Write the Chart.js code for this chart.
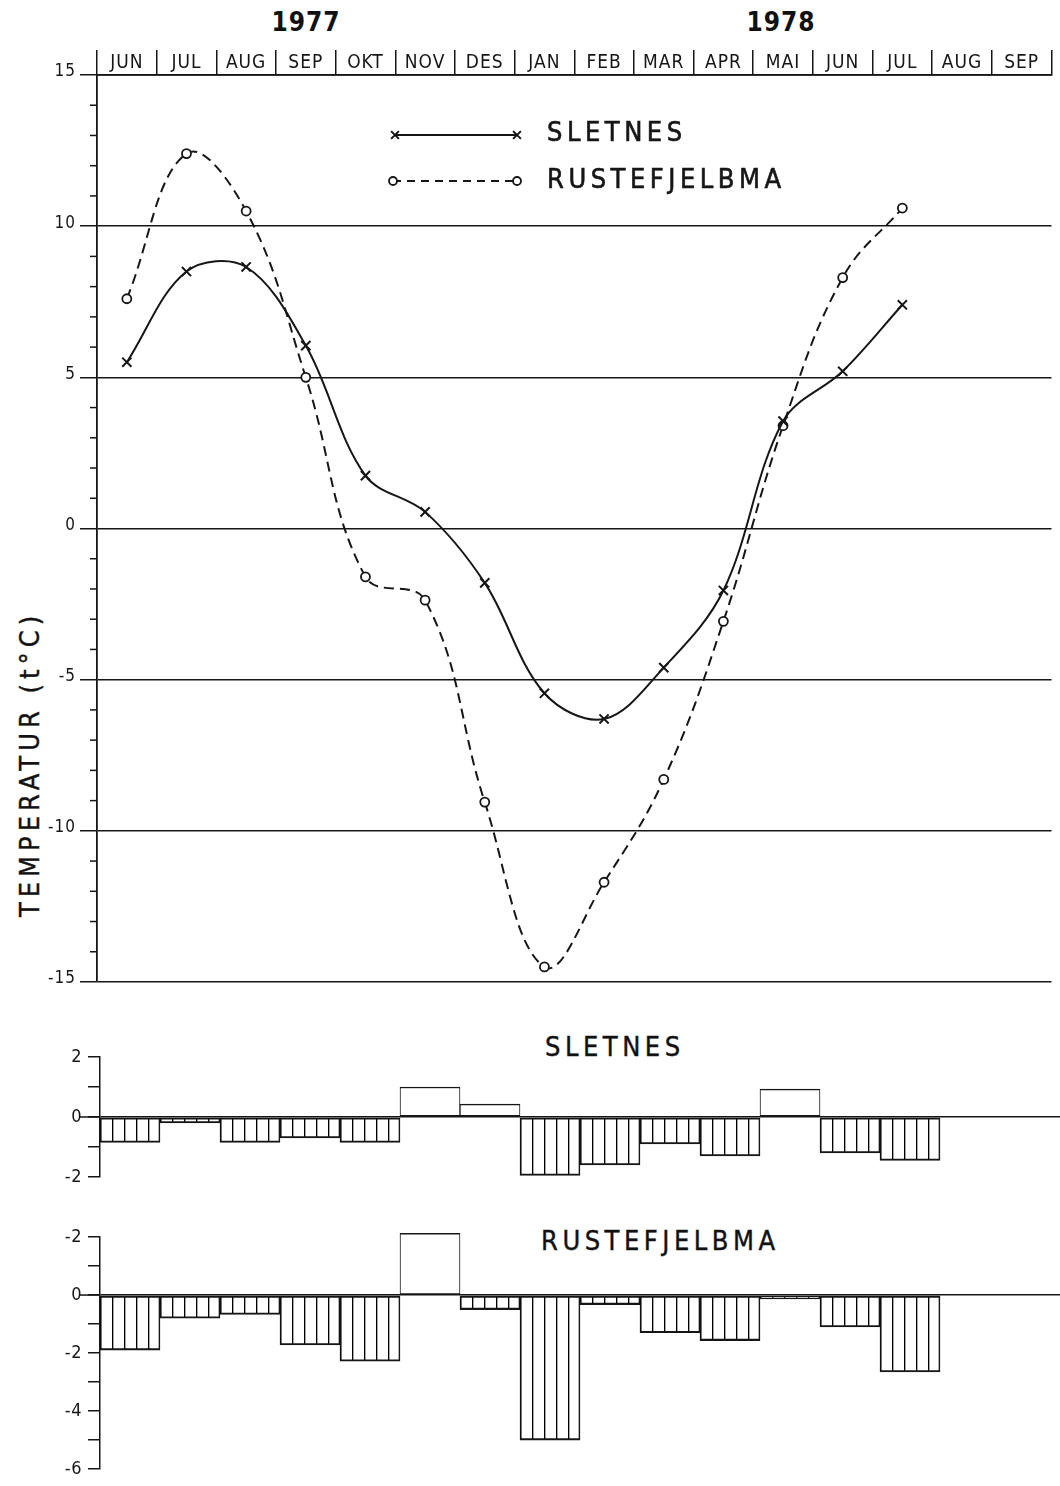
<!DOCTYPE html>
<html><head><meta charset="utf-8">
<script src="https://cdn.jsdelivr.net/npm/chart.js@4.4.1/dist/chart.umd.min.js"></script>
<style>
html,body{margin:0;padding:0;background:#fff;}
body{width:1060px;height:1486px;position:relative;overflow:hidden;font-family:'DejaVu Sans Condensed','DejaVu Sans',sans-serif;color:#111;}
canvas{position:absolute;left:0;}
.t{position:absolute;white-space:nowrap;line-height:1;transform:translate(-50%,-50%);-webkit-text-stroke:0.4px #161616;}
.yr{font-size:26px;font-weight:bold;letter-spacing:1px;-webkit-text-stroke:0;}
.sub{font-size:27px;letter-spacing:4.5px;transform:translate(0,-50%);}
.ytitle{font-size:27px;letter-spacing:5px;transform:translate(-50%,-50%) rotate(-90deg);}
</style></head><body>
<div class="t yr" id="yr0" style="left:306px;top:22px;"></div>
<div class="t yr" id="yr1" style="left:781px;top:22px;"></div>
<div class="t ytitle" id="ytitle" style="left:29px;top:764px;"></div>
<div class="t sub" id="sub0" style="left:545px;top:1046px;"></div>
<div class="t sub" id="sub1" style="left:541px;top:1240px;"></div>
<canvas id="cTop" width="1060" height="1000" style="top:0;"></canvas>
<canvas id="cSlet" width="1060" height="170" style="top:1027px;"></canvas>
<canvas id="cRust" width="1060" height="279" style="top:1207px;"></canvas>
<script>
// ---------- DATA ----------
const years = ['1977', '1978'];
const months = ['JUN','JUL','AUG','SEP','OKT','NOV','DES','JAN','FEB','MAR','APR','MAI','JUN','JUL','AUG','SEP'];
const seriesNames = ['SLETNES', 'RUSTEFJELBMA'];
const sletnesTemp = [5.5, 8.5, 8.65, 6.05, 1.75, 0.55, -1.8, -5.45, -6.3, -4.6, -2.05, 3.55, 5.2, 7.4, null, null];
const rusteTemp   = [7.6, 12.4, 10.5, 5.0, -1.6, -2.37, -9.05, -14.5, -11.7, -8.3, -3.07, 3.4, 8.3, 10.6, null, null];
const sletnesDev  = [-0.85, -0.2, -0.85, -0.7, -0.85, 1.0, 0.43, -1.95, -1.6, -0.9, -1.3, 0.93, -1.2, -1.45, null, null];
const rusteDev    = [-1.9, -0.8, -0.67, -1.72, -2.28, 2.13, -0.5, -5.0, -0.33, -1.3, -1.57, -0.13, -1.1, -2.65, null, null];
const tempTickValues = [15, 10, 5, 0, -5, -10, -15];
const sletDevTickValues = [2, 0, -2];
const sletDevTickLabels = ['2', '0', '-2'];
const rustDevTickValues = [2, 0, -2, -4, -6];
const rustDevTickLabels = ['-2', '0', '-2', '-4', '-6'];
const yTitle = 'TEMPERATUR (t°C)';

// ---------- TEXT ----------
document.getElementById('yr0').textContent = years[0];
document.getElementById('yr1').textContent = years[1];
document.getElementById('ytitle').textContent = yTitle;
document.getElementById('sub0').textContent = seriesNames[0];
document.getElementById('sub1').textContent = seriesNames[1];

const INK = '#161616';
const FONT = "'DejaVu Sans Condensed','DejaVu Sans',sans-serif";
Chart.defaults.font.family = FONT;
Chart.defaults.color = INK;

const spacingPlugin = {
  id: 'spacing',
  beforeDraw(chart, args, opts) { chart.ctx.letterSpacing = (opts.px || 0) + 'px'; }
};

const minorTicksPlugin = {
  id: 'minorTicks',
  afterDraw(chart, args, opts) {
    const s = chart.scales.y, ctx = chart.ctx;
    ctx.save();
    ctx.strokeStyle = INK; ctx.lineWidth = 1.5;
    if (opts.step) {
      for (let v = s.min; v <= s.max + 1e-9; v += opts.step) {
        if (Math.abs(v % opts.major) < 1e-9) continue;
        const y = s.getPixelForValue(v);
        ctx.beginPath(); ctx.moveTo(s.right - opts.len, y); ctx.lineTo(s.right, y); ctx.stroke();
      }
    }
    (opts.ext || []).forEach(e => {
      const y = s.getPixelForValue(e.value);
      ctx.beginPath(); ctx.moveTo(s.right - e.len, y); ctx.lineTo(s.right, y); ctx.stroke();
    });
    ctx.restore();
  }
};

const legendPlugin = {
  id: 'inLegend',
  afterDatasetsDraw(chart, args, opts) {
    if (!opts.items) return;
    const ctx = chart.ctx;
    opts.items.forEach((it, i) => {
      const ds = chart.data.datasets[i];
      ctx.save();
      ctx.strokeStyle = ds.borderColor; ctx.lineWidth = ds.borderWidth;
      ctx.setLineDash(it.dash || []);
      ctx.beginPath(); ctx.moveTo(it.x0, it.y); ctx.lineTo(it.x1, it.y); ctx.stroke();
      ctx.setLineDash([]);
      ctx.fillStyle = ds.pointBackgroundColor; ctx.strokeStyle = ds.pointBorderColor;
      ctx.lineWidth = ds.pointBorderWidth;
      [it.x0, it.x1].forEach(x => Chart.helpers.drawPoint(ctx,
        {pointStyle: ds.pointStyle, radius: it.r, borderWidth: ds.pointBorderWidth, rotation: 0}, x, it.y));
      ctx.fillStyle = INK;
      ctx.strokeStyle = INK; ctx.lineWidth = 0.6;
      ctx.font = "27px " + FONT;
      ctx.letterSpacing = '4.5px';
      ctx.textBaseline = 'middle'; ctx.textAlign = 'left';
      ctx.fillText(ds.label, it.tx, it.ty);
      ctx.strokeText(ds.label, it.tx, it.ty);
      ctx.restore();
    });
  }
};

// ---------- TOP CHART ----------
new Chart(document.getElementById('cTop'), {
  type: 'line',
  data: {
    labels: months,
    datasets: [
      { label: seriesNames[0], data: sletnesTemp, borderColor: INK, borderWidth: 2, tension: 0.35,
        pointStyle: 'crossRot', pointRadius: 6.5, pointBorderWidth: 2, pointBorderColor: INK,
        pointBackgroundColor: INK, fill: false },
      { label: seriesNames[1], data: rusteTemp, borderColor: INK, borderWidth: 2, tension: 0.4,
        borderDash: [10, 6], pointStyle: 'circle', pointRadius: 4.5, pointBorderWidth: 1.8,
        pointBorderColor: INK, pointBackgroundColor: '#fff', fill: false }
    ]
  },
  options: {
    responsive: false, animation: false,
    layout: { padding: { left: 0, right: 3, top: 0, bottom: 18 } },
    plugins: {
      legend: { display: false }, tooltip: { enabled: false },
      spacing: { px: 1 },
      minorTicks: { step: 1, major: 5, len: 7 },
      inLegend: { items: [
        { x0: 395, x1: 517, y: 135, r: 5.5, tx: 547, ty: 134 },
        { x0: 393, x1: 517, y: 181, r: 4, dash: [8, 6], tx: 547, ty: 181 }
      ] }
    },
    scales: {
      x: {
        position: 'top', offset: true,
        afterFit: s => { s.height = 75; },
        grid: { offset: true, drawOnChartArea: false, color: INK, lineWidth: 1.5, tickLength: 25 },
        border: { display: true, color: INK, width: 1.8 },
        ticks: { font: { size: 19 }, padding: -24, color: INK, maxRotation: 0, autoSkip: false }
      },
      y: {
        min: -15, max: 15,
        afterFit: s => { s.width = 97; },
        grid: { color: INK, lineWidth: 1.5, tickLength: 17 },
        border: { display: true, color: INK, width: 1.8 },
        ticks: { stepSize: 5, font: { size: 17 }, padding: 4, labelOffset: -3, color: INK,
          callback: v => tempTickValues.includes(v) ? String(v) : '' }
      }
    }
  },
  plugins: [spacingPlugin, minorTicksPlugin, legendPlugin]
});

// ---------- BOTTOM CHARTS ----------
function hatchFor(canvas) {
  const p = document.createElement('canvas');
  p.width = 12; p.height = 12;
  const g = p.getContext('2d');
  g.fillStyle = '#000'; g.fillRect(4, 0, 1, 12);
  g.fillStyle = 'rgba(0,0,0,0.35)'; g.fillRect(5, 0, 1, 12);
  return canvas.getContext('2d').createPattern(p, 'repeat');
}

function devChart(id, values, minV, maxV, tickVals, tickLabs, padTop, padBottom) {
  const cv = document.getElementById(id);
  const hatch = hatchFor(cv);
  return new Chart(cv, {
    type: 'bar',
    data: { labels: months, datasets: [{
      data: values, clip: false,
      backgroundColor: c => (c.raw != null && c.raw < 0) ? hatch : '#fff',
      borderColor: INK, borderWidth: { top: 1.5, bottom: 1.5, left: 1, right: 1 },
      borderSkipped: false, barPercentage: 1, categoryPercentage: 1
    }] },
    options: {
      responsive: false, animation: false,
      layout: { padding: { left: 0, right: 0, top: padTop, bottom: padBottom } },
      plugins: { legend: { display: false }, tooltip: { enabled: false },
        spacing: { px: 0.5 },
        minorTicks: { step: 0, ext: [{ value: 0, len: 20 }] } },
      scales: {
        x: { display: false, offset: true },
        y: {
          min: minV, max: maxV,
          afterFit: s => { s.width = 100; },
          grid: { color: c => c.tick && c.tick.value === 0 ? INK : 'rgba(0,0,0,0)', tickColor: INK,
            lineWidth: 1.5, tickLength: 12 },
          border: { display: true, color: INK, width: 1.5 },
          ticks: { stepSize: 1, autoSkip: false, font: { size: 18 }, padding: 6, color: INK,
            callback: v => { const i = tickVals.indexOf(v); return i >= 0 ? tickLabs[i] : ''; } }
        }
      }
    },
    plugins: [spacingPlugin, minorTicksPlugin]
  });
}

devChart('cSlet', sletnesDev, -2, 2, sletDevTickValues, sletDevTickLabels, 30, 20);
devChart('cRust', rusteDev, -6, 2, rustDevTickValues, rustDevTickLabels, 30, 7);
</script>
</body></html>
